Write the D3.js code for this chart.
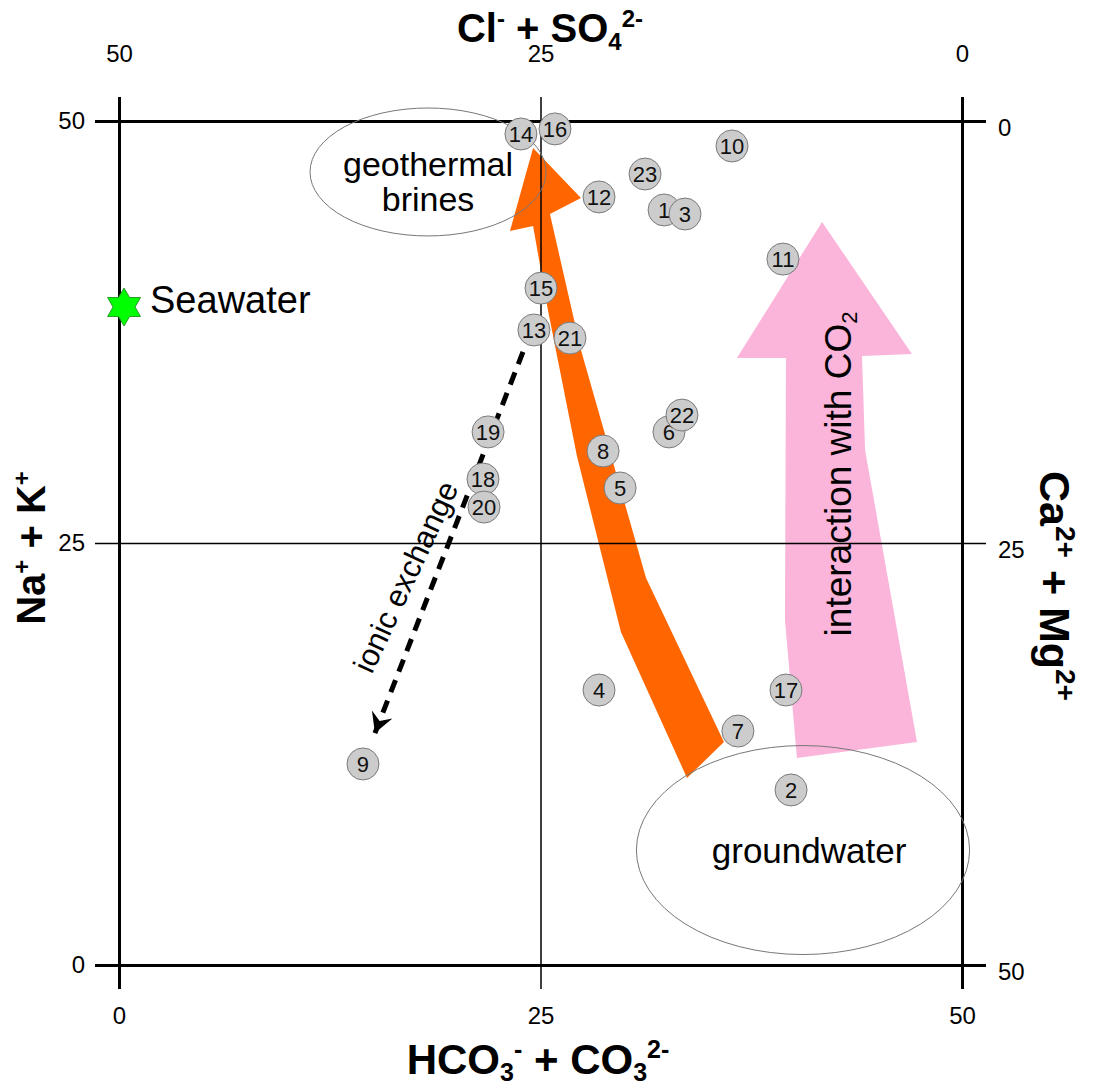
<!DOCTYPE html>
<html>
<head>
<meta charset="utf-8">
<script src="https://cdn.jsdelivr.net/npm/d3@7"></script>
<style>
  body { margin: 0; background: #fff; }
  svg { display: block; }
  text { font-family: "Liberation Sans", Arial, sans-serif; }
</style>
</head>
<body>
<svg id="chart"></svg>
<script>
// Sample points (x = HCO3 + CO3, y = Na + K), in meq %
const sampleIds = ["1","2","3","4","5","6","7","8","9","10","11","12","13","14","15","16","17","18","19","20","21","22","23"];
const bicarbonate = [32.33, 39.86, 33.57, 28.47, 29.72, 32.62, 36.71, 28.71, 14.47, 36.36, 39.38, 28.47, 24.61, 23.84, 25.03, 25.86, 39.56, 21.59, 21.89, 21.65, 26.75, 33.39, 31.2];
const sodium      = [44.73, 10.37, 44.49, 16.29, 28.26, 31.58, 13.86, 30.45, 11.91, 48.52, 41.82, 45.5, 37.62, 49.23, 40.1, 49.53, 16.29, 28.79, 31.58, 27.13, 37.14, 32.58, 46.86];

const seawater = [0.3, 38.98];

// axis ticks
const bottomTicks = [0, 25, 50];
const leftTicks = [0, 25, 50];
const topTicks = [50, 25, 0];
const rightTicks = [0, 25, 50];

// annotation shapes, in data units
const orangeArrow = [[24.56, 48.4], [27.4, 45.44], [25.56, 44.49], [27.4, 36.43], [31.26, 22.93], [35.88, 13.21],
                     [33.69, 11.08], [29.77, 19.73], [27.16, 30.15], [25.44, 38.8], [24.56, 43.78], [23.19, 43.48]];
const pinkArrow = [[41.7, 44.02], [47.03, 36.2], [44.07, 36.08], [44.25, 30.51], [47.33, 13.21],
                   [40.21, 12.26], [39.5, 20.44], [39.56, 35.96], [36.65, 35.96]];
const ionicArrow = [[23.96, 36.32], [15.18, 13.74]];
const brineEllipse = { cx: 18.33, cy: 46.98, rx: 7.0, ry: 3.79 };
const groundEllipse = { cx: 40.57, cy: 6.81, rx: 9.88, ry: 6.19 };

const width = 1099, height = 1088;
const svg = d3.select("#chart").attr("width", width).attr("height", height);

const x = d3.scaleLinear().domain([0, 50]).range([119, 962]);
const y = d3.scaleLinear().domain([0, 50]).range([965, 121]);
const xTop = d3.scaleLinear().domain([50, 0]).range([119, 962]);
const yRight = d3.scaleLinear().domain([0, 50]).range([121, 965]);
const ext = 24;

const shape = d3.line().x(d => x(d[0])).y(d => y(d[1]));

// arrows behind everything
svg.append("path").datum(pinkArrow).attr("d", d => shape(d) + "Z").attr("fill", "#fbb4da");
svg.append("path").datum(orangeArrow).attr("d", d => shape(d) + "Z").attr("fill", "#ff6600");

// frame + middle lines via axes
const gBottom = svg.append("g")
    .attr("transform", `translate(0,${y(0) + ext})`)
    .call(d3.axisBottom(x).tickValues(bottomTicks).tickSize(-(y(0) - y(50) + 2 * ext)).tickPadding(18));
const gLeft = svg.append("g")
    .attr("transform", `translate(${x(0) - ext},0)`)
    .call(d3.axisLeft(y).tickValues(leftTicks).tickSize(-(x(50) - x(0) + 2 * ext)).tickPadding(10));
const gTop = svg.append("g")
    .attr("transform", `translate(0,${y(50) - ext})`)
    .call(d3.axisTop(xTop).tickValues(topTicks).tickSize(0).tickPadding(35));
const gRight = svg.append("g")
    .attr("transform", `translate(${x(50) + ext},0)`)
    .call(d3.axisRight(yRight).tickValues(rightTicks).tickSize(0).tickPadding(12));

[gBottom, gLeft, gTop, gRight].forEach(g => {
    g.select(".domain").remove();
    g.attr("font-family", null).attr("font-size", 24);
    g.selectAll(".tick line").attr("stroke", "#000").attr("stroke-width", d => d === 25 ? 1.5 : 3);
    g.selectAll(".tick text").attr("fill", "#000").attr("font-size", 24);
});
gRight.selectAll(".tick text").attr("dy", "0.6em");

// ellipses
[brineEllipse, groundEllipse].forEach(e => {
    svg.append("ellipse")
        .attr("cx", x(e.cx)).attr("cy", y(e.cy))
        .attr("rx", x(e.rx) - x(0)).attr("ry", y(0) - y(e.ry))
        .attr("fill", "none").attr("stroke", "#777").attr("stroke-width", 1);
});

// ionic exchange dashed arrow
svg.append("defs").append("marker")
    .attr("id", "head").attr("viewBox", "-24 -14 28 28")
    .attr("markerWidth", 28).attr("markerHeight", 28)
    .attr("markerUnits", "userSpaceOnUse").attr("orient", "auto").attr("refX", 0).attr("refY", 0)
    .append("path").attr("d", "M0,0 L-20,-11 L-13,0 L-20,11 Z").attr("fill", "#000");

svg.append("path").datum(ionicArrow)
    .attr("d", shape)
    .attr("fill", "none").attr("stroke", "#000").attr("stroke-width", 5)
    .attr("stroke-dasharray", "13,9")
    .attr("marker-end", "url(#head)");

// sample points
const pts = svg.append("g").selectAll("g").data(sampleIds).join("g")
    .attr("transform", (d, i) => `translate(${x(bicarbonate[i])},${y(sodium[i])})`);
pts.append("circle").attr("r", 16).attr("fill", "#cccccc").attr("stroke", "#7a7a7a").attr("stroke-width", 1);
pts.append("text").text(d => d)
    .attr("text-anchor", "middle").attr("dy", "0.36em")
    .style("font-size", "22px").attr("fill", "#111");

// seawater star
const star = d3.lineRadial()
    .angle((d, i) => i * Math.PI / 6)
    .radius((d, i) => i % 2 === 0 ? 19 : 11)
    .curve(d3.curveLinearClosed);
svg.append("path")
    .attr("transform", `translate(${x(seawater[0])},${y(seawater[1])})`)
    .attr("d", star(d3.range(12)))
    .attr("fill", "#00ff00").attr("stroke", "#2a9a2a").attr("stroke-width", 1);

// annotation texts
function label(txt, dx, dy, size, opts = {}) {
    const t = svg.append("text")
        .attr("x", x(dx)).attr("y", y(dy))
        .attr("text-anchor", opts.anchor || "middle")
        .style("font-size", size + "px").attr("fill", "#000")
        .text(txt);
    if (opts.rotate != null) t.attr("transform", `rotate(${opts.rotate},${x(dx)},${y(dy)})`);
    if (opts.dy) t.attr("dy", opts.dy);
    return t;
}
label("geothermal", 18.33, 46.74, 34);
label("brines", 18.33, 44.67, 34);
label("groundwater", 40.93, 6.04, 35);
label("Seawater", 1.84, 38.61, 38, { anchor: "start" });
label("ionic exchange", 17.0, 23.0, 31, { rotate: -65, dy: "0.35em" });

const co2 = label("interaction with CO", 43.42, 29.09, 37, { rotate: -90 });
co2.append("tspan").attr("dy", "0.25em").style("font-size", "22px").text("2");

// axis titles
function title(parts, tx, ty, rot, size, small, up, down) {
    const t = svg.append("text")
        .attr("x", tx).attr("y", ty)
        .attr("text-anchor", "middle")
        .style("font-size", size + "px").style("font-weight", "bold").attr("fill", "#000");
    if (rot) t.attr("transform", `rotate(${rot},${tx},${ty})`);
    let shift = 0;
    parts.forEach(([s, kind]) => {
        const target = kind === "sup" ? -up : kind === "sub" ? down : 0;
        t.append("tspan").attr("dy", target - shift)
            .style("font-size", (kind ? small : size) + "px").text(s);
        shift = target;
    });
    return t;
}
title([["Cl", ""], ["-", "sup"], [" + SO", ""], ["4", "sub"], ["2-", "sup"]], 550, 42, 0, 40, 24, 15, 8);
title([["HCO", ""], ["3", "sub"], ["-", "sup"], [" + CO", ""], ["3", "sub"], ["2-", "sup"]], 538, 1074, 0, 42, 25, 16, 7);
title([["Na", ""], ["+", "sup"], [" + K", ""], ["+", "sup"]], 45, 548, -90, 40, 24, 15, 8);
title([["Ca", ""], ["2+", "sup"], [" + Mg", ""], ["2+", "sup"]], 1040, 586, 90, 43, 28, 16, 8);
</script>
</body>
</html>
